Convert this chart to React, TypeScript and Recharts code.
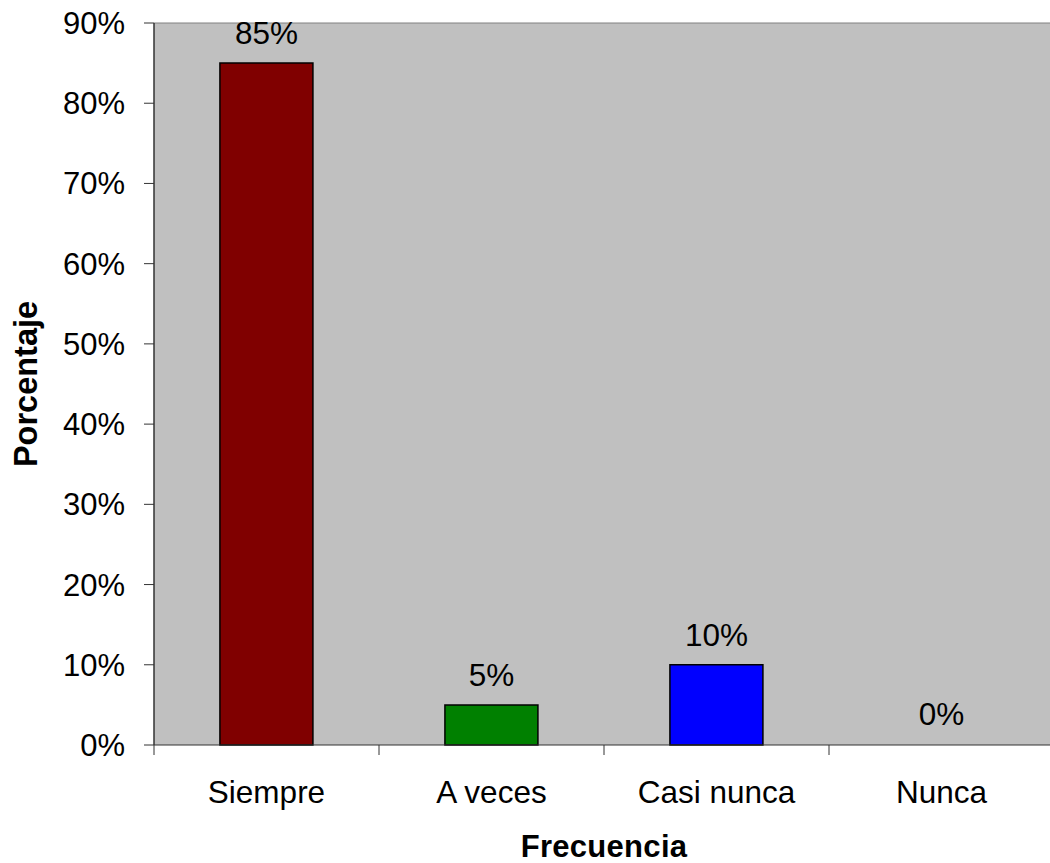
import { BarChart, Bar, XAxis, YAxis, Cell, LabelList, ReferenceLine, CartesianGrid } from "recharts";

const CATEGORIES = ["Siempre", "A veces", "Casi nunca", "Nunca"];
const PERCENTS = [85, 5, 10, 0];
const BAR_COLORS = ["#800000", "#008000", "#0000FF", "#C0C0C0"];
const Y_TICKS = [0, 10, 20, 30, 40, 50, 60, 70, 80, 90];

const data = CATEGORIES.map((name, i) => ({ name, value: PERCENTS[i] }));

const FONT = "'Liberation Sans', Arial, sans-serif";
const CHART_W = 1060;
const CHART_H = 863;
const MARGIN = { top: 23, right: 6, bottom: 0, left: 0 };
const Y_AXIS_W = 154;
const X_AXIS_H = 118;
const TICK_SIZE = 10;
const X_TICK_MARGIN = 25;
const BAND = (CHART_W - MARGIN.left - MARGIN.right - Y_AXIS_W) / CATEGORIES.length;
const AXIS_COLOR = "#333";
const PLOT_BG = "#C0C0C0";

function CategoryTick(props: any) {
  const { x, y, payload, index } = props;
  const half = BAND / 2;
  const top = y - X_TICK_MARGIN - TICK_SIZE;
  return (
    <g>
      <line x1={x - half} x2={x - half} y1={top} y2={top + TICK_SIZE} stroke={AXIS_COLOR} />
      {index === CATEGORIES.length - 1 && (
        <line x1={x + half} x2={x + half} y1={top} y2={top + TICK_SIZE} stroke={AXIS_COLOR} />
      )}
      <text x={x} y={y} dy="0.72em" textAnchor="middle" fontSize={31.5} fontFamily={FONT} fill="#000">
        {payload.value}
      </text>
    </g>
  );
}

function YTitle(props: any) {
  const vb = props.viewBox || {};
  const cy = vb.y + vb.height / 2;
  const x = 37;
  return (
    <text
      x={x}
      y={cy}
      transform={`rotate(-90, ${x}, ${cy})`}
      textAnchor="middle"
      fontSize={32.5}
      fontWeight="bold"
      fontFamily={FONT}
      fill="#000"
    >
      Porcentaje
    </text>
  );
}

function XTitle(props: any) {
  const vb = props.viewBox || {};
  const cx = vb.x + vb.width / 2;
  return (
    <text x={cx} y={857} textAnchor="middle" fontSize={31} fontWeight="bold" letterSpacing={0.3} fontFamily={FONT} fill="#000">
      Frecuencia
    </text>
  );
}

export default function App() {
  return (
    <div style={{ position: "absolute", left: 0, top: 0, width: 1050, height: 863, overflow: "hidden", background: "#fff" }}>
      <BarChart width={CHART_W} height={CHART_H} data={data} margin={MARGIN} barCategoryGap="29.3%">
        <CartesianGrid fill={PLOT_BG} fillOpacity={1} horizontal={false} vertical={false} />
        <XAxis
          dataKey="name"
          height={X_AXIS_H}
          tickLine={false}
          tickSize={TICK_SIZE}
          tickMargin={X_TICK_MARGIN}
          axisLine={{ stroke: AXIS_COLOR, strokeWidth: 1 }}
          tick={<CategoryTick />}
          interval={0}
          label={{ content: XTitle }}
        />
        <YAxis
          width={Y_AXIS_W}
          domain={[0, 90]}
          ticks={Y_TICKS}
          interval={0}
          tickFormatter={(v: number) => `${v}%`}
          tickSize={TICK_SIZE}
          tickMargin={19}
          tickLine={{ stroke: AXIS_COLOR }}
          axisLine={{ stroke: AXIS_COLOR, strokeWidth: 1.5 }}
          tick={{ fontSize: 31, fontFamily: FONT, fill: "#000" }}
          label={{ content: YTitle }}
        />
        <ReferenceLine y={90} stroke="#808080" strokeWidth={1} />
        <Bar dataKey="value" stroke="#000" strokeWidth={1.5} minPointSize={1} isAnimationActive={false}>
          {data.map((d, i) => (
            <Cell key={i} fill={BAR_COLORS[i]} stroke={d.value === 0 ? "none" : "#000"} />
          ))}
          <LabelList
            dataKey="value"
            position="top"
            offset={19}
            formatter={(v: any) => `${v}%`}
            style={{ fontSize: 31.5, fontFamily: FONT, fill: "#000" }}
          />
        </Bar>
      </BarChart>
    </div>
  );
}
